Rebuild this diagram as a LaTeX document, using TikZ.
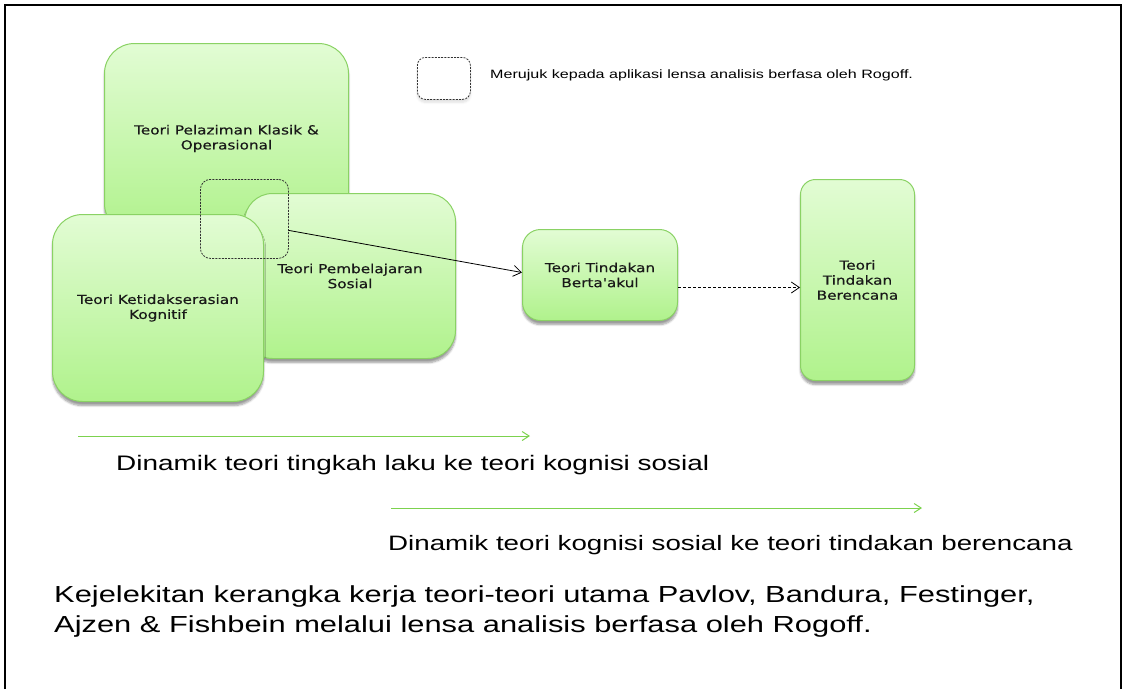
\documentclass[tikz,border=0pt]{standalone}
\usepackage{fontspec}
\setmainfont{Liberation Sans}
\newfontfamily\wide[FakeStretch=1.33]{Liberation Sans}
\newfontfamily\boxfont[FakeStretch=1.22,FakeBold=0.4]{DejaVu Sans}
\usetikzlibrary{arrows.meta,shadows.blur,calc}
\definecolor{gtop}{HTML}{E2FCD4}
\definecolor{gbot}{HTML}{B0F28C}
\definecolor{gedge}{HTML}{8AD264}
\definecolor{garrow}{HTML}{7CD24E}
\begin{document}
\begin{tikzpicture}[x=1pt,y=-1pt,
  gbox/.style={draw=gedge, line width=1pt, top color=gtop, bottom color=gbot,
    blur shadow={shadow xshift=0pt,shadow yshift=-4pt,shadow blur steps=6,shadow opacity=40},
    align=center, font=\boxfont\fontsize{12.5}{15}\selectfont, text=black!90,
    inner sep=0pt, anchor=north west},
  lensbox/.style={draw=black!80, line width=0.8pt, dash pattern=on 2pt off 1.2pt,
    inner sep=0pt, anchor=north west, rounded corners=10pt},
  wtext/.style={font=\wide\fontsize{#1}{#1}\selectfont, anchor=base west, inner sep=0pt},
  blackarrow/.style={line width=0.8pt, -{Straight Barb[length=8pt,width=11pt]}},
  greenarrow/.style={draw=garrow, line width=1pt, -{Straight Barb[length=7pt,width=9pt]}}
]
\useasboundingbox (0,0) rectangle (1123,689);
% border (open at the bottom)
\draw[line width=2pt] (4.5,689) -- (4.5,5) -- (1120.5,5) -- (1120.5,689);

% overlapping boxes
\node[gbox, minimum width=244pt, minimum height=190pt, rounded corners=30pt] (A) at (104,43)
  {Teori Pelaziman Klasik \&\\Operasional};
\node[gbox, minimum width=211pt, minimum height=165pt, rounded corners=28pt] (B) at (244,193)
  {Teori Pembelajaran\\Sosial};
\node[gbox, minimum width=211pt, minimum height=187pt, rounded corners=30pt] (C) at (52,214)
  {Teori Ketidakserasian\\Kognitif};
\node[lensbox, minimum width=88pt, minimum height=79pt] (lens) at (200,179) {};

% right boxes
\node[gbox, minimum width=155pt, minimum height=91pt, rounded corners=18pt] (D) at (522,229)
  {Teori Tindakan\\Berta'akul};
\node[gbox, minimum width=114pt, minimum height=201pt, rounded corners=15pt] (E) at (800,179)
  {Teori\\Tindakan\\Berencana};

% connectors
\draw[blackarrow] ([yshift=-11.5pt]lens.east) -- ([yshift=2.5pt]D.west);
\draw[blackarrow, dash pattern=on 3pt off 2pt] ([yshift=-12.5pt]D.east) -- ([yshift=-7.5pt]E.west);

% legend
\node[lensbox, rounded corners=8pt, minimum width=53pt, minimum height=42pt, fill=white,
  blur shadow={shadow xshift=0pt,shadow yshift=-3pt,shadow blur steps=5,shadow opacity=12}] (leg) at (417,57) {};
\node[wtext=12.1] (legtext) at (490,78) {Merujuk kepada aplikasi lensa analisis berfasa oleh Rogoff.};

% dynamics arrows
\coordinate (g1s) at (78,436);
\coordinate (g1e) at (530,436);
\draw[greenarrow] (g1s) -- (g1e);
\node[wtext=21] (dyn1) at (116,470) {Dinamik teori tingkah laku ke teori kognisi sosial};
\coordinate (g2s) at (391,508);
\coordinate (g2e) at (922,508);
\draw[greenarrow] (g2s) -- (g2e);
\node[wtext=20.85] (dyn2) at (388,550) {Dinamik teori kognisi sosial ke teori tindakan berencana};

% caption
\node[wtext=23.2] (cap1) at (54,602) {Kejelekitan kerangka kerja teori-teori utama Pavlov, Bandura, Festinger,};
\node[wtext=23.2] (cap2) at (54,632) {Ajzen \& Fishbein melalui lensa analisis berfasa oleh Rogoff.};
\end{tikzpicture}
\end{document}
